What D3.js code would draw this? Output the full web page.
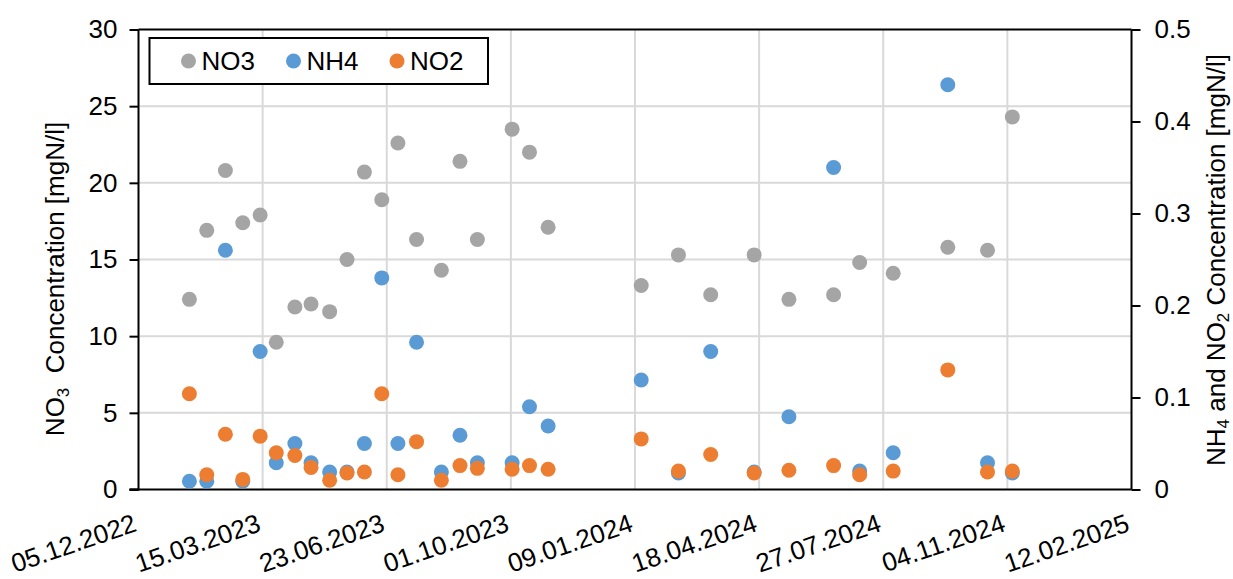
<!DOCTYPE html>
<html>
<head>
<meta charset="utf-8">
<script src="https://cdn.jsdelivr.net/npm/d3@7"></script>
<style>
  html, body { margin: 0; padding: 0; background: #fff; }
  svg { display: block; font-family: "Liberation Sans", Arial, sans-serif; }
</style>
</head>
<body>
<svg id="chart" width="1233" height="579"></svg>
<script>
// ---- data ----
const sampleDates = ["15.01.2023","29.01.2023","13.02.2023","27.02.2023","13.03.2023","26.03.2023",
  "10.04.2023","23.04.2023","08.05.2023","22.05.2023","05.06.2023","19.06.2023","02.07.2023",
  "17.07.2023","06.08.2023","21.08.2023","04.09.2023","02.10.2023","16.10.2023","31.10.2023",
  "14.01.2024","13.02.2024","10.03.2024","14.04.2024","12.05.2024","17.06.2024","08.07.2024",
  "04.08.2024","17.09.2024","19.10.2024","08.11.2024"];
const no3 = [12.4,16.9,20.8,17.4,17.9,9.6,11.9,12.1,11.6,15.0,20.7,18.9,22.6,16.3,14.3,21.4,16.3,
  23.5,22.0,17.1,13.3,15.3,12.7,15.3,12.4,12.7,14.8,14.1,15.8,15.6,24.3];
const nh4 = [0.009,0.009,0.26,0.009,0.15,0.029,0.05,0.029,0.019,0.019,0.05,0.23,0.05,0.16,0.019,
  0.059,0.029,0.029,0.09,0.069,0.119,0.018,0.15,0.019,0.079,0.35,0.02,0.04,0.44,0.029,0.018];
const no2 = [0.104,0.016,0.060,0.011,0.058,0.040,0.037,0.024,0.010,0.018,0.019,0.104,0.016,0.052,
  0.010,0.026,0.023,0.022,0.026,0.022,0.055,0.020,0.038,0.018,0.021,0.026,0.016,0.020,0.130,0.019,0.020];
const xTickLabels = ["05.12.2022","15.03.2023","23.06.2023","01.10.2023","09.01.2024",
  "18.04.2024","27.07.2024","04.11.2024","12.02.2025"];
const leftTicks = [0,5,10,15,20,25,30];
const rightTicks = [0,0.1,0.2,0.3,0.4,0.5];
const seriesNames = ["NO3","NH4","NO2"];
const seriesColors = ["#A5A5A5","#5B9BD5","#ED7D31"];

// ---- layout ----
const L = 138.5, R = 1131.5, T = 29.5, B = 489.5;
const FS = 26;
const parse = d3.utcParse("%d.%m.%Y");
const svg = d3.select("#chart");

const x = d3.scaleUtc().domain([parse(xTickLabels[0]), parse(xTickLabels[xTickLabels.length-1])]).range([L, R]);
const yL = d3.scaleLinear().domain([0, 30]).range([B, T]);
const yR = d3.scaleLinear().domain([0, 0.5]).range([B, T]);

// gridlines
const grid = svg.append("g").attr("stroke", "#D9D9D9").attr("stroke-width", 2);
grid.selectAll("line.h").data(leftTicks.slice(1, -1)).join("line")
  .attr("x1", L).attr("x2", R).attr("y1", d => yL(d)).attr("y2", d => yL(d));
grid.selectAll("line.v").data(xTickLabels.slice(1, -1)).join("line")
  .attr("x1", d => x(parse(d))).attr("x2", d => x(parse(d))).attr("y1", T).attr("y2", B);

// top border
svg.append("line").attr("x1", L).attr("x2", R).attr("y1", T).attr("y2", T)
  .attr("stroke", "#000").attr("stroke-width", 2);

// left axis
const gL = svg.append("g").attr("transform", `translate(${L},0)`)
  .call(d3.axisLeft(yL).tickValues(leftTicks).tickSize(9).tickPadding(12).tickFormat(d3.format("d")));
// right axis
const gR = svg.append("g").attr("transform", `translate(${R},0)`)
  .call(d3.axisRight(yR).tickValues(rightTicks).tickSize(9).tickPadding(14)
    .tickFormat(d => d === 0 ? "0" : d3.format(".1f")(d)));
// bottom axis
const gB = svg.append("g").attr("transform", `translate(0,${B})`)
  .call(d3.axisBottom(x).tickValues(xTickLabels.map(parse)).tickSize(0).tickFormat(d3.utcFormat("%d.%m.%Y")));

[gL, gR, gB].forEach(g => {
  g.select(".domain").attr("stroke", "#000").attr("stroke-width", 2);
  g.selectAll(".tick line").attr("stroke", "#000").attr("stroke-width", 2);
  g.selectAll("text").attr("font-size", FS).attr("font-family", '"Liberation Sans", Arial, sans-serif').attr("fill", "#000");
});
gL.select(".domain").attr("d", `M-9,${B}H0V${T}`);
gR.select(".domain").attr("d", `M0,${T}V${B}`);
gB.select(".domain").attr("d", `M${L - 9},0H${R}`);
gB.selectAll(".tick text")
  .attr("text-anchor", "end")
  .attr("dy", null)
  .attr("y", 0)
  .attr("transform", "translate(-1,41) rotate(-19)");

// points
const pts = sampleDates.map(parse);
const layers = [
  { vals: no3, scale: yL, color: seriesColors[0] },
  { vals: nh4, scale: yR, color: seriesColors[1] },
  { vals: no2, scale: yR, color: seriesColors[2] }
];
layers.forEach(layer => {
  svg.append("g").selectAll("circle").data(layer.vals).join("circle")
    .attr("cx", (d, i) => x(pts[i]))
    .attr("cy", d => layer.scale(d))
    .attr("r", 7.5)
    .attr("fill", layer.color);
});

// legend
const lg = svg.append("g");
lg.append("rect").attr("x", 149.5).attr("y", 38).attr("width", 338.5).attr("height", 46)
  .attr("fill", "#fff").attr("stroke", "#000").attr("stroke-width", 2);
const legX = [188.5, 293.5, 397];
seriesNames.forEach((n, i) => {
  lg.append("circle").attr("cx", legX[i]).attr("cy", 61).attr("r", 7.5).attr("fill", seriesColors[i]);
  lg.append("text").attr("x", legX[i] + 13).attr("y", 61).attr("dy", "0.35em")
    .attr("font-size", FS).text(n);
});

// axis titles
const tL = svg.append("text").attr("transform", "translate(64,279) rotate(-90)")
  .attr("text-anchor", "middle").attr("font-size", FS);
tL.append("tspan").text("NO");
tL.append("tspan").attr("font-size", FS * 0.65).attr("dy", 5).text("3");
tL.append("tspan").attr("dy", -5).text("\u00A0\u00A0Concentration [mgN/l]");

const tR = svg.append("text").attr("transform", "translate(1225,260) rotate(-90)")
  .attr("text-anchor", "middle").attr("font-size", FS);
tR.append("tspan").text("NH");
tR.append("tspan").attr("font-size", FS * 0.65).attr("dy", 4).text("4");
tR.append("tspan").attr("dy", -4).text(" and NO");
tR.append("tspan").attr("font-size", FS * 0.65).attr("dy", 4).text("2");
tR.append("tspan").attr("dy", -4).text(" Concentration [mgN/l]");
</script>
</body>
</html>
